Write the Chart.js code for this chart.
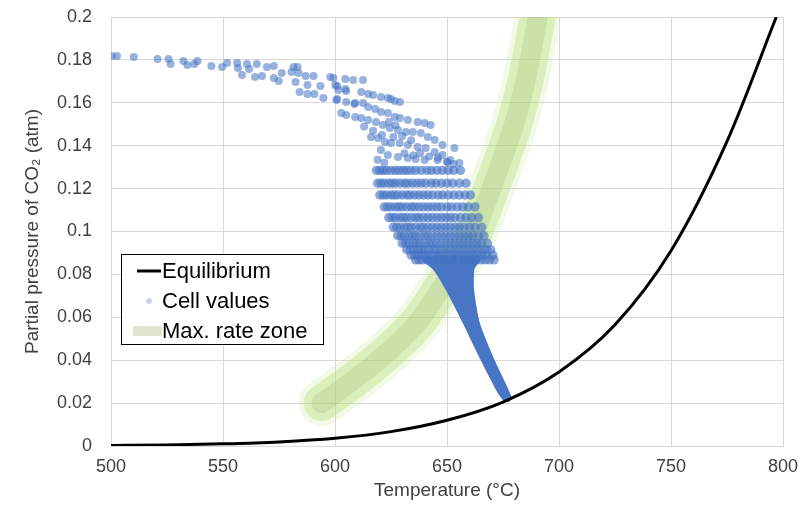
<!DOCTYPE html>
<html>
<head>
<meta charset="utf-8">
<script src="https://cdn.jsdelivr.net/npm/chart.js@4.4.1/dist/chart.umd.min.js"></script>
<style>
  html, body { margin: 0; padding: 0; background: #fff; }
  #wrap { width: 808px; height: 515px; }
</style>
</head>
<body>
<div id="wrap"><canvas id="co2-chart" width="808" height="515"></canvas></div>
<script>
/* global Chart */

// axis ticks
const xTicks = [500, 550, 600, 650, 700, 750, 800];
const yTicks = [0, 0.02, 0.04, 0.06, 0.08, 0.1, 0.12, 0.14, 0.16, 0.18, 0.2];

// equilibrium curve
const eqT = [500, 525, 550, 575, 600, 625, 650, 675, 700, 725, 750, 775, 797];
const eqP = [0.0002, 0.0005, 0.001, 0.0019, 0.0036, 0.0067, 0.012, 0.0205, 0.0345, 0.0565, 0.091, 0.142, 0.2];

// max. rate zone centre line
const zoneT = [594, 606, 616, 628, 638, 647, 655, 662, 668, 674, 680, 685, 690.5];
const zoneP = [0.02, 0.029, 0.037, 0.048, 0.059, 0.073, 0.086, 0.099, 0.115, 0.132, 0.15, 0.17, 0.2];

// cell values: scattered upper trail
const trailT = [
  500.4, 502.7, 510.2, 520.8, 525.7, 526.6, 532.3, 534.1, 537.2, 538.6,
  544.8, 549.6, 551.8, 556.3, 556.7, 558.5, 560.7, 561.6, 564.3, 565.1,
  567.4, 569.6, 572.7, 572.7, 574.9, 576.2, 580.6, 581.5, 583.3, 583.7,
  582.4, 584.2, 586.9, 587.7, 587.7, 590.4, 590.8, 593.5, 594.8, 597.9,
  599.3, 601, 601, 604.6, 604.6, 605, 608.1, 608.6, 612.5, 611.7,
  614.8, 617, 620.5, 625, 629, 600.1, 601.5, 605, 623.6, 626.7,
  600.6, 609, 612.5, 614.8, 617.9, 620.5, 623.6, 626.7, 629, 632.5,
  636.9, 640, 642.7, 602.8, 605, 609, 611.7, 614.8, 618.3, 621.4,
  624.5, 628.1, 631.6, 634.7, 638.3, 641.4, 644.5, 648, 653.3, 616.1,
  619.2, 622.3, 625, 628.9, 632.5, 636.9, 640.5, 644.5, 648, 651.5,
  655.5, 620.5, 623.6, 628.1, 632.5, 636, 640, 645.8, 650.2, 617,
  621, 626, 630, 634, 613, 624, 627, 619, 622, 631,
  635, 638, 642, 646, 650, 653
];
const trailP = [
  0.1818, 0.1818, 0.1814, 0.1804, 0.1804, 0.1781, 0.1795, 0.1776, 0.1781, 0.1795,
  0.1772, 0.1767, 0.1786, 0.1786, 0.1762, 0.173, 0.1781, 0.1758, 0.172, 0.1781,
  0.1725, 0.1767, 0.1772, 0.1716, 0.1702, 0.1739, 0.1744, 0.1767, 0.1767, 0.1739,
  0.1697, 0.165, 0.1725, 0.1683, 0.1641, 0.1725, 0.1641, 0.1678, 0.1622, 0.172,
  0.1716, 0.1678, 0.1618, 0.1711, 0.1664, 0.1604, 0.1706, 0.1594, 0.1706, 0.165,
  0.1641, 0.1636, 0.1627, 0.1618, 0.1604, 0.1683, 0.166, 0.1655, 0.1622, 0.1608,
  0.1613, 0.1599, 0.1599, 0.158, 0.1571, 0.1557, 0.1552, 0.1534, 0.1529, 0.152,
  0.151, 0.1506, 0.1497, 0.1552, 0.1543, 0.1534, 0.1529, 0.152, 0.151, 0.1497,
  0.1483, 0.1473, 0.1464, 0.1464, 0.1459, 0.1441, 0.1427, 0.1403, 0.1389, 0.1441,
  0.1436, 0.1417, 0.1413, 0.1413, 0.1403, 0.1394, 0.1389, 0.1371, 0.1357, 0.1333,
  0.1319, 0.138, 0.1357, 0.1347, 0.1343, 0.1338, 0.1333, 0.1333, 0.1324, 0.147,
  0.145, 0.144, 0.1445, 0.1425, 0.149, 0.151, 0.1495, 0.1335, 0.132, 0.1365,
  0.1355, 0.1365, 0.135, 0.1345, 0.1325, 0.1315
];

// cell values: horizontal rows of the lower fan
const fanP = [0.1285, 0.1225, 0.117, 0.1115, 0.1065, 0.102, 0.098, 0.0945, 0.0915, 0.089, 0.0868];
const fanT = [
  [618.5, 620, 621.5, 623, 625, 627, 628.5, 630.5, 632, 634, 636, 638.5, 641, 643, 645.5, 648, 650.5, 653, 656],
  [619, 620.5, 622, 624, 625.5, 627, 629, 631, 632.5, 634.5, 636.5, 638.5, 640.5, 643, 645, 647.5, 650, 652.5, 655.5, 658.5],
  [620, 621.5, 623, 625, 626.5, 628, 630, 632, 633.5, 635.5, 637.5, 639.5, 641.5, 643.5, 646, 648, 650.5, 653, 655.5, 658, 660.5],
  [622, 623.5, 625, 627, 628.5, 630, 632, 634, 635.5, 637.5, 639.5, 641.5, 643.5, 645.5, 647.5, 650, 652, 654.5, 657, 659.5, 662.5],
  [624, 625.5, 627, 629, 630.5, 632, 634, 636, 637.5, 639.5, 641.5, 643.5, 645.5, 647.5, 649.5, 651.5, 653.5, 656, 658.5, 661, 664],
  [626, 627.5, 629, 631, 632.5, 634, 636, 638, 639.5, 641.5, 643.5, 645.5, 647.5, 649.5, 651.5, 653.5, 655.5, 657.5, 660, 662.5, 665.5],
  [628, 629.5, 631, 633, 634.5, 636, 638, 640, 641.5, 643.5, 645.5, 647.5, 649.5, 651.5, 653.5, 655.5, 657.5, 659.5, 661.5, 664, 666.5],
  [630, 631.5, 633, 635, 636.5, 638, 640, 642, 643.5, 645.5, 647.5, 649.5, 651.5, 653.5, 655.5, 657.5, 659.5, 661.5, 663.5, 665.5, 668],
  [632, 633.5, 635, 637, 638.5, 640, 642, 644, 645.5, 647.5, 649.5, 651.5, 653.5, 655.5, 657.5, 659.5, 661.5, 663.5, 665.5, 667.5, 669.5],
  [634, 635.5, 637, 639, 640.5, 642, 644, 646, 647.5, 649.5, 651.5, 653.5, 655.5, 657.5, 659.5, 661.5, 663.5, 665.5, 667.5, 670.5],
  [636, 637.5, 639, 641, 643, 645, 647, 649, 651, 653, 655, 657, 659, 661, 663, 665, 667, 669, 671]
];

// cell values: dense tail converging to the last cell, as strands
const tailP = [0.087, 0.083, 0.0727, 0.0573, 0.0415, 0.026, 0.0225];
const tailT = [
  [641, 645.5, 651.5, 659, 666.3, 674, 676.4],
  [645, 648, 653, 659.8, 666.7, 674.3, 676.5],
  [649, 651, 655, 660.5, 667.1, 674.6, 676.6],
  [653, 654, 656.5, 661.2, 667.5, 674.9, 676.7],
  [657, 657, 658, 661.8, 667.9, 675.2, 676.8],
  [660, 659, 659.3, 662.3, 668.3, 675.4, 676.9],
  [663, 660.5, 660.3, 662.8, 668.7, 675.6, 677]
];

const FONT = '"Liberation Sans", Arial, sans-serif';

const xy = (xs, ys) => xs.map((x, i) => ({x: x, y: ys[i]}));

const cellData = xy(trailT, trailP);
fanT.forEach((row, i) => row.forEach(t => cellData.push({x: t, y: fanP[i]})));
// trail dots a bit smaller and paler than the packed fan rows
const isTrail = i => i < trailT.length;
const cellRadius = cellData.map((d, i) => (isTrail(i) ? 4 : 4.7));
const cellColor = cellData.map((d, i) => (isTrail(i) ? 'rgba(68,114,196,0.55)' : 'rgba(68,114,196,0.62)'));

const tailSets = tailT.map(strand => ({
  type: 'scatter',
  label: '_tail',
  data: xy(strand, tailP),
  showLine: true,
  borderColor: 'rgb(72,118,196)',
  borderWidth: 8,
  borderCapStyle: 'round',
  tension: 0.2,
  pointRadius: 0,
  order: 1
}));

const zoneLayer = (label, color, width, order) => ({
  label: label,
  data: xy(zoneT, zoneP),
  showLine: true,
  borderColor: color,
  borderWidth: width,
  borderCapStyle: 'round',
  tension: 0.4,
  pointRadius: 0,
  order: order
});

// legend drawn inside the plot, like the original
const legendBox = {
  id: 'legendBox',
  afterDraw(chart) {
    const {ctx, chartArea} = chart;
    const ds = chart.data.datasets;
    const x = chartArea.left + 10, y = chartArea.top + 237;
    ctx.save();
    ctx.fillStyle = '#fff';
    ctx.fillRect(x, y, 202, 90);
    ctx.strokeStyle = '#000';
    ctx.lineWidth = 1;
    ctx.strokeRect(x + 0.5, y + 0.5, 202, 90);
    ctx.font = '22px ' + FONT;
    ctx.textBaseline = 'middle';
    ctx.textAlign = 'left';

    // equilibrium
    let cy = y + 17;
    ctx.strokeStyle = ds[0].borderColor;
    ctx.lineWidth = 3;
    ctx.beginPath(); ctx.moveTo(x + 16, cy); ctx.lineTo(x + 40, cy); ctx.stroke();
    ctx.fillStyle = '#000';
    ctx.fillText(ds[0].label, x + 41, cy + 1);

    // cell values
    cy = y + 47;
    ctx.fillStyle = 'rgba(68,114,196,0.3)';
    ctx.beginPath(); ctx.arc(x + 28, cy, 3, 0, Math.PI * 2); ctx.fill();
    ctx.fillStyle = '#000';
    ctx.fillText(ds[1].label, x + 41, cy + 1);

    // max rate zone
    cy = y + 77;
    ctx.fillStyle = 'rgb(222,228,205)';
    ctx.fillRect(x + 12, cy - 5, 29, 10);
    ctx.fillStyle = '#000';
    ctx.fillText(ds[2].label, x + 41, cy + 1);
    ctx.restore();
  }
};

new Chart(document.getElementById('co2-chart'), {
  type: 'scatter',
  data: {
    datasets: [
      {
        label: 'Equilibrium',
        data: xy(eqT, eqP),
        showLine: true,
        borderColor: '#000',
        borderWidth: 3,
        pointRadius: 0,
        cubicInterpolationMode: 'monotone',
        order: 0
      },
      {
        label: 'Cell values',
        data: cellData,
        backgroundColor: cellColor,
        borderWidth: 0,
        pointRadius: cellRadius,
        order: 1
      },
      zoneLayer('Max. rate zone', 'rgba(175,220,105,0.35)', 36, 4),
      zoneLayer('_zoneGlow', 'rgba(185,225,120,0.18)', 46, 5),
      zoneLayer('_zoneCore', 'rgba(150,175,105,0.22)', 20, 3),
      ...tailSets
    ]
  },
  options: {
    responsive: false,
    devicePixelRatio: 1,
    animation: false,
    events: [],
    layout: { padding: { top: 17, right: 25, left: 0, bottom: 0 } },
    plugins: {
      legend: { display: false },
      tooltip: { enabled: false }
    },
    scales: {
      x: {
        type: 'linear',
        min: 500,
        max: 800,
        afterBuildTicks: s => { s.ticks = xTicks.map(v => ({value: v})); },
        afterFit: s => { s.height = 69; },
        grid: { color: '#d9d9d9', tickColor: 'rgba(0,0,0,0)', tickLength: 10 },
        border: { color: '#d9d9d9' },
        ticks: { padding: 0, color: '#404040', font: { family: FONT, size: 18 }, maxRotation: 0 },
        title: {
          display: true,
          text: 'Temperature (°C)',
          color: '#404040',
          font: { family: FONT, size: 19 },
          padding: { top: 0, bottom: 13 }
        }
      },
      y: {
        type: 'linear',
        min: 0,
        max: 0.2,
        afterBuildTicks: s => { s.ticks = yTicks.map(v => ({value: v})); },
        afterFit: s => { s.width = 111; },
        grid: { color: '#d9d9d9', tickColor: 'rgba(0,0,0,0)', tickLength: 19 },
        border: { color: '#d9d9d9' },
        ticks: {
          padding: 0,
          color: '#404040',
          font: { family: FONT, size: 18 },
          callback: v => String(+v.toFixed(2))
        },
        title: {
          display: true,
          text: 'Partial pressure of CO₂ (atm)',
          color: '#404040',
          font: { family: FONT, size: 19 },
          padding: { top: 21, bottom: 0 }
        }
      }
    }
  },
  plugins: [legendBox]
});
</script>
</body>
</html>
